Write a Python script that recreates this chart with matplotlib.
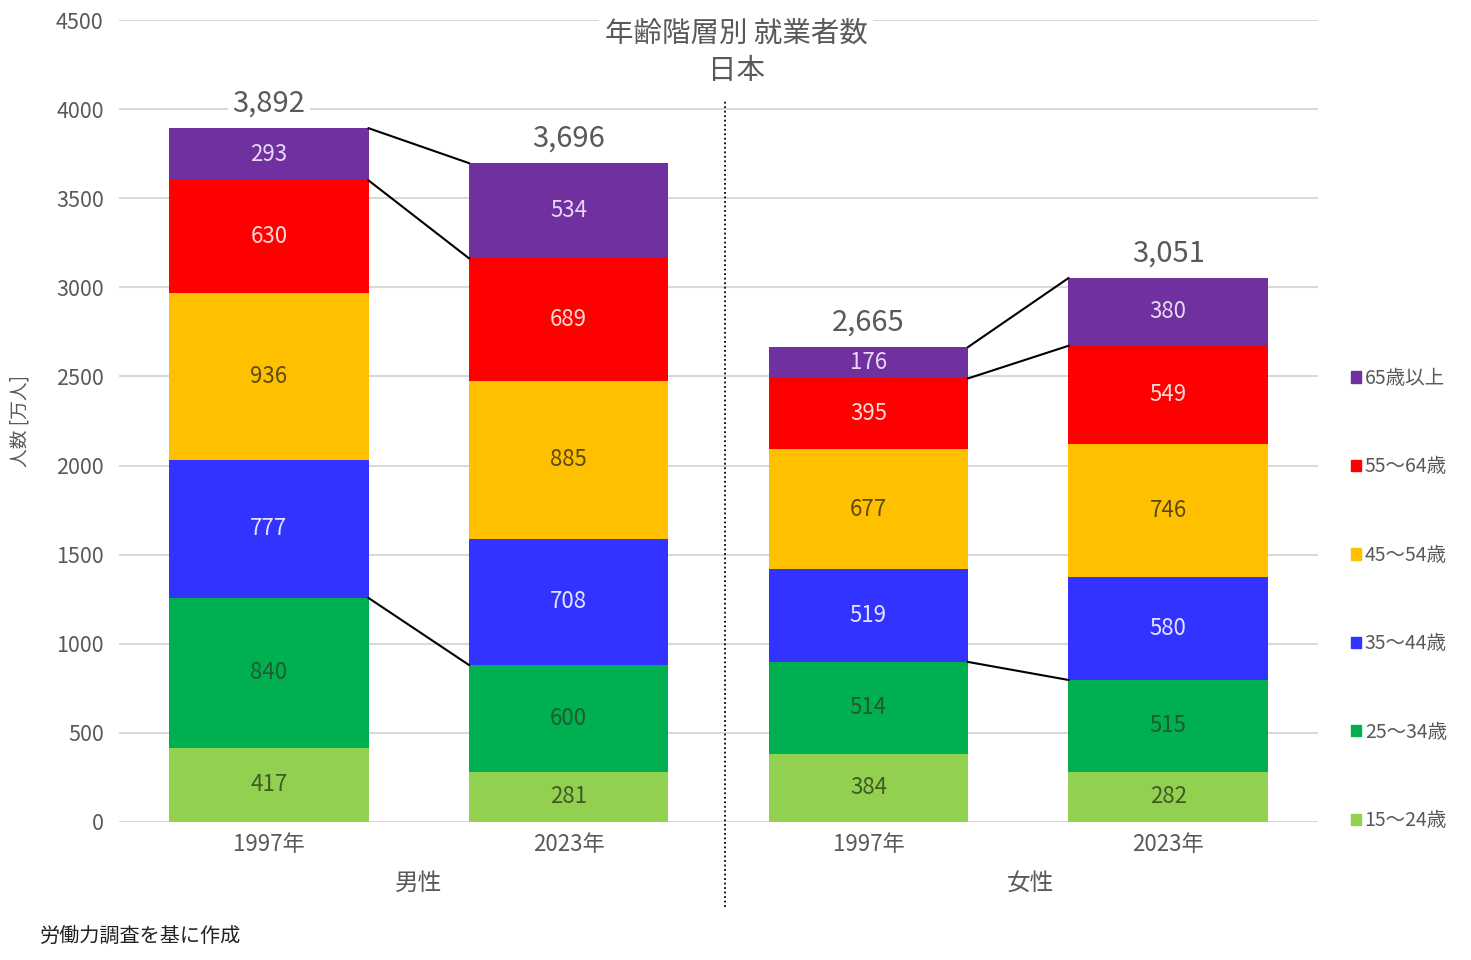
import matplotlib.pyplot as plt
from matplotlib.patches import Patch
import numpy as np

plt.rcParams["font.family"] = ["Noto Sans CJK JP", "DejaVu Sans"]

# data (万人)
bar_labels = ["1997年", "2023年", "1997年", "2023年"]
groups = ["男性", "女性"]
age_classes = ["15～24歳", "25～34歳", "35～44歳", "45～54歳", "55～64歳", "65歳以上"]
age_15_24 = [417, 281, 384, 282]
age_25_34 = [840, 600, 514, 515]
age_35_44 = [777, 708, 519, 580]
age_45_54 = [936, 885, 677, 746]
age_55_64 = [630, 689, 395, 549]
age_65_up = [293, 534, 176, 380]
totals = [3892, 3696, 2665, 3051]

colors = ["#92D050", "#00B050", "#3333FF", "#FFC000", "#FF0000", "#7030A0"]
text_colors = ["#3F5A25", "#1E5A32", "#E4E4FF", "#5C4A10", "#FFD8D8", "#E8D8F5"]
gray = "#595959"

series = [age_15_24, age_25_34, age_35_44, age_45_54, age_55_64, age_65_up]
x = np.arange(len(bar_labels))
width = 0.665

fig = plt.figure(figsize=(14.71, 9.6), dpi=100)
ax = fig.add_axes([0.0809, 0.14375, 0.8151, 0.8354])

bottom = np.zeros(len(x))
tops = []
for vals, c, tc in zip(series, colors, text_colors):
    vals = np.array(vals)
    ax.bar(x, vals, width, bottom=bottom, color=c, zorder=2)
    for xi, b, v in zip(x, bottom, vals):
        ax.text(xi, b + v / 2, str(v), ha="center", va="center",
                fontsize=16, color=tc, zorder=3)
    bottom = bottom + vals
    tops.append(bottom.copy())

# totals
for xi, t in zip(x, totals):
    ax.annotate(f"{t:,}", (xi, bottom[xi]), xytext=(0, 7), textcoords="offset points",
                ha="center", va="bottom", fontsize=21, color=gray, zorder=4,
                bbox=dict(boxstyle="square,pad=0.15", fc="white", ec="none"))

# connector lines between bars of the same sex
for left in [0, 2]:
    right = left + 1
    for level in [tops[5], tops[4], tops[1]]:
        ax.plot([left + width / 2, right - width / 2], [level[left], level[right]],
                color="black", lw=1.5, zorder=3)

# separator
ax.axvline(1.52, ymin=-0.106, ymax=0.9, color="black", lw=1.3, ls=(0, (1, 1.5)),
           clip_on=False, zorder=1)

ax.set_xlim(-0.5, 3.5)
ax.set_ylim(0, 4500)
ax.set_yticks(np.arange(0, 4501, 500))
ax.set_xticks(x)
ax.set_xticklabels(bar_labels)
ax.tick_params(length=0, labelsize=16, colors=gray, pad=8)
ax.tick_params(axis="y", labelsize=15.5, pad=11)
ax.grid(axis="y", color="#D9D9D9", lw=1.5, zorder=0)
ax.set_axisbelow(True)
for s in ax.spines.values():
    s.set_visible(False)

ax.set_ylabel("人数 [万人]", fontsize=13.5, color=gray, labelpad=18)

for gi, g in enumerate(groups):
    ax.text(gi * 2 + 0.5 + gi * 0.04, -0.077, g, transform=ax.get_xaxis_transform(),
            ha="center", va="center", fontsize=17, color=gray)

fig.text(736 / 1471, 1 - 34 / 960, "年齢階層別 就業者数", ha="center", va="center",
         fontsize=20.5, color=gray,
         bbox=dict(boxstyle="square,pad=0.2", fc="white", ec="none"))
fig.text(736 / 1471, 1 - 71 / 960, "日本", ha="center", va="center",
         fontsize=20.5, color=gray)

handles = [Patch(color=c, label=l) for c, l in zip(colors, age_classes)][::-1]
ax.legend(handles=handles, loc="upper left", bbox_to_anchor=(1.013, 0.588),
          frameon=False, fontsize=14, labelcolor=gray, handlelength=0.5,
          handleheight=0.5, handletextpad=0.2, labelspacing=3.47)

fig.text(40 / 1471, 1 - 936 / 960, "労働力調査を基に作成", ha="left", va="center",
         fontsize=14.5, color="#222222")

fig.savefig("out.png", dpi=100)
